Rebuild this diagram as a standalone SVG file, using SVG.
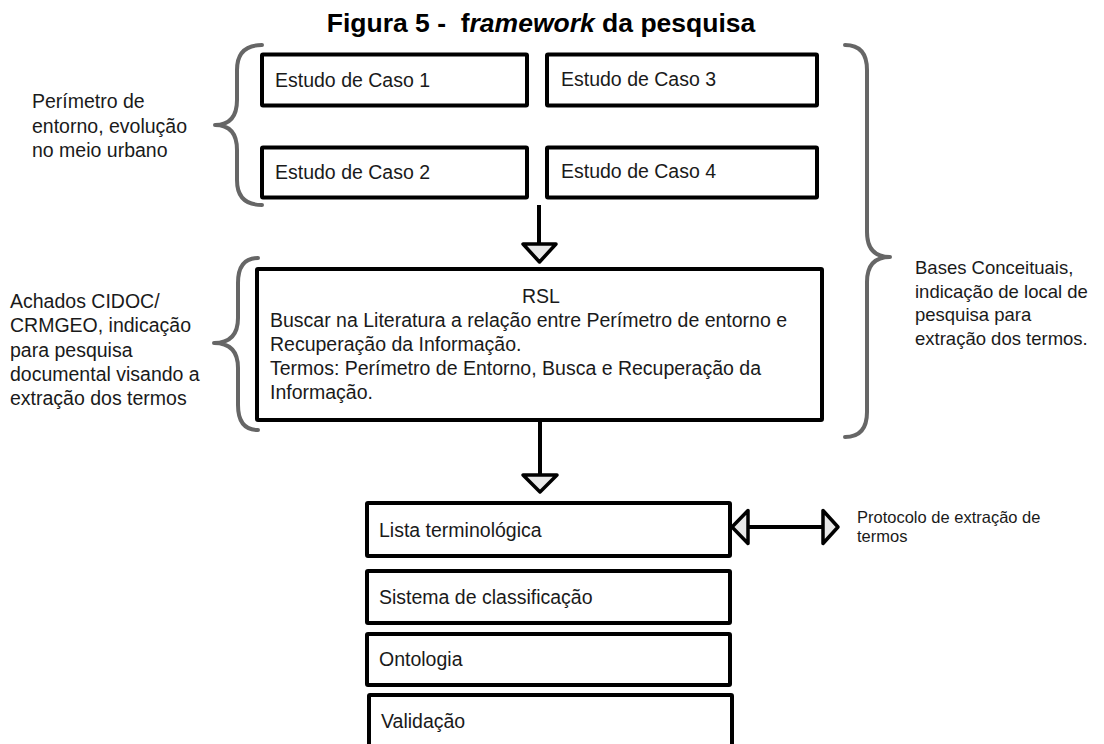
<svg xmlns="http://www.w3.org/2000/svg" width="1104" height="744" viewBox="0 0 1104 744">
<style>
  text { font-family: "Liberation Sans", Arial, sans-serif; fill: #1a1a1a; }
  .t { font-size: 19.5px; }
  .s { font-size: 19.5px; }
  .r { font-size: 18.5px; }
  .p { font-size: 16.5px; }
  .title { font-size: 26.5px; font-weight: bold; fill: #000; white-space: pre; }
  .box { fill: #fff; stroke: #000; stroke-width: 4; }
  .brace { fill: none; stroke: #666; stroke-width: 4; stroke-linecap: round; stroke-linejoin: round; }
  .line { stroke: #000; stroke-width: 4; fill: none; }
  .head { fill: #e8e8e8; stroke: #000; stroke-width: 3.5; stroke-linejoin: round; }
</style>
<rect width="1104" height="744" fill="#fff"/>

<text class="title" x="541" y="32" text-anchor="middle" xml:space="preserve">Figura 5 -  f<tspan font-style="italic">ramework</tspan> da pesquisa</text>

<g id="brace-left-1">
  <path class="brace" d="M262 45 Q237 45 237 70 L237 100 Q237 125 215 125 Q237 125 237 150 L237 180 Q237 205 262 205"/>
  <text class="s" x="32" y="108">Perímetro de</text>
  <text class="s" x="32" y="132.5">entorno, evolução</text>
  <text class="s" x="32" y="157">no meio urbano</text>
</g>

<g id="brace-left-2">
  <path class="brace" d="M258 258 Q238 258 238 283 L238 318 Q238 343 214 343 Q238 343 238 368 L238 405 Q238 430 258 430"/>
  <text class="s" x="10" y="308">Achados CIDOC/</text>
  <text class="s" x="10" y="332.3">CRMGEO, indicação</text>
  <text class="s" x="10" y="356.6">para pesquisa</text>
  <text class="s" x="10" y="380.9">documental visando a</text>
  <text class="s" x="10" y="405.2">extração dos termos</text>
</g>

<g id="brace-right">
  <path class="brace" d="M845 45 Q867 45 867 70 L867 232 Q867 257 890 257 Q867 257 867 282 L867 412 Q867 437 845 437"/>
  <text class="r" x="915" y="274">Bases Conceituais,</text>
  <text class="r" x="915" y="297.5">indicação de local de</text>
  <text class="r" x="915" y="321">pesquisa para</text>
  <text class="r" x="915" y="344.5">extração dos termos.</text>
</g>

<g id="caso1">
  <rect class="box" x="262" y="54.5" width="265" height="51" rx="1"/>
  <text class="t" x="275" y="87">Estudo de Caso 1</text>
</g>
<g id="caso3">
  <rect class="box" x="547" y="54.5" width="270" height="51" rx="1"/>
  <text class="t" x="561" y="86">Estudo de Caso 3</text>
</g>
<g id="caso2">
  <rect class="box" x="262" y="147.5" width="265" height="50" rx="1"/>
  <text class="t" x="275" y="179">Estudo de Caso 2</text>
</g>
<g id="caso4">
  <rect class="box" x="547" y="147.5" width="270" height="50" rx="1"/>
  <text class="t" x="561" y="178">Estudo de Caso 4</text>
</g>

<g id="rsl">
  <rect class="box" x="257" y="269" width="565" height="151" rx="1"/>
  <text class="t" x="541" y="303" text-anchor="middle">RSL</text>
  <text class="t" x="270" y="327">Buscar na Literatura a relação entre Perímetro de entorno e</text>
  <text class="t" x="270" y="351">Recuperação da Informação.</text>
  <text class="t" x="270" y="375">Termos: Perímetro de Entorno, Busca e Recuperação da</text>
  <text class="t" x="270" y="399">Informação.</text>
</g>

<g id="lista">
  <rect class="box" x="367" y="503" width="363" height="53" rx="1"/>
  <text class="t" x="379" y="537">Lista terminológica</text>
</g>
<g id="sistema">
  <rect class="box" x="367" y="571" width="363" height="52" rx="1"/>
  <text class="t" x="379" y="604">Sistema de classificação</text>
</g>
<g id="ontologia">
  <rect class="box" x="367" y="634" width="363" height="51" rx="1"/>
  <text class="t" x="379" y="666">Ontologia</text>
</g>
<g id="validacao">
  <rect class="box" x="369" y="695" width="363" height="60" rx="1"/>
  <text class="t" x="381" y="728">Validação</text>
</g>

<g id="protocolo">
  <text class="p" x="857" y="523">Protocolo de extração de</text>
  <text class="p" x="857" y="542">termos</text>
</g>

<g id="connectors">
  <line class="line" x1="539" y1="205" x2="539" y2="244"/>
  <polygon class="head" points="523,244 556,244 539.5,262"/>
  <line class="line" x1="540" y1="418" x2="540" y2="475"/>
  <polygon class="head" points="523,475 557,475 540,492"/>
  <line class="line" x1="748" y1="527" x2="823" y2="527"/>
  <polygon class="head" points="748,510.5 748,543.5 732,527"/>
  <polygon class="head" points="823,510.5 823,543.5 838,527"/>
</g>
</svg>
